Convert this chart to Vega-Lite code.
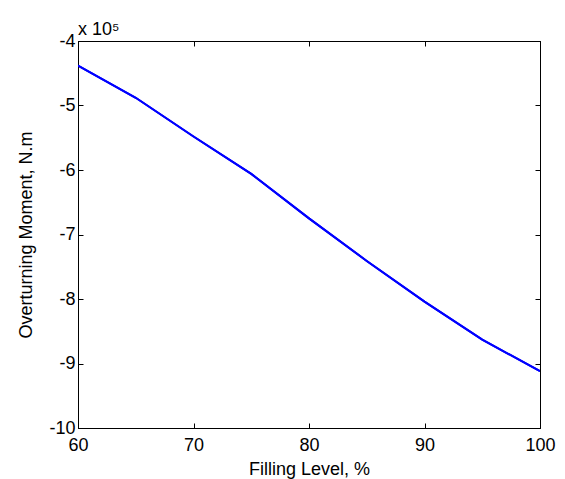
{
  "$schema": "https://vega.github.io/schema/vega-lite/v6.json",
  "width": 462,
  "height": 387,
  "autosize": {"type": "none"},
  "padding": {"left": 78, "top": 41, "right": 25, "bottom": 51},
  "background": "white",
  "config": {
    "view": {"stroke": "black", "strokeWidth": 1},
    "font": "Liberation Sans",
    "axis": {
      "labelFont": "Liberation Sans",
      "titleFont": "Liberation Sans",
      "labelFontSize": 18,
      "titleFontSize": 18,
      "titleFontWeight": "normal",
      "labelColor": "black",
      "titleColor": "black",
      "domainColor": "black",
      "tickColor": "black",
      "grid": false,
      "tickSize": -5,
      "labelFlush": false,
      "labelOverlap": false
    }
  },
  "title": {
    "text": "x 10⁵",
    "anchor": "start",
    "frame": "group",
    "orient": "top",
    "font": "Liberation Sans",
    "fontSize": 18,
    "fontWeight": "normal",
    "color": "black",
    "baseline": "alphabetic",
    "offset": -21
  },
  "data": {
    "values": [
      {"level": 60, "moment": -438000},
      {"level": 65, "moment": -488000},
      {"level": 70, "moment": -548000},
      {"level": 75, "moment": -606000},
      {"level": 80, "moment": -675000},
      {"level": 85, "moment": -741000},
      {"level": 90, "moment": -804000},
      {"level": 95, "moment": -863000},
      {"level": 100, "moment": -912000}
    ]
  },
  "layer": [
    {
      "mark": {"type": "line", "color": "#0000FF", "strokeWidth": 2, "clip": true},
      "encoding": {
        "x": {
          "field": "level", "type": "quantitative",
          "scale": {"domain": [60, 100], "nice": false, "zero": false},
          "axis": {"orient": "bottom", "values": [60, 70, 80, 90, 100], "title": "Filling Level, %", "labelPadding": 13, "titlePadding": 6}
        },
        "y": {
          "field": "moment", "type": "quantitative",
          "scale": {"domain": [-1000000, -400000], "nice": false, "zero": false},
          "axis": {"orient": "left", "values": [-1000000, -900000, -800000, -700000, -600000, -500000, -400000], "labelExpr": "'' + (datum.value / 100000)", "title": "Overturning Moment, N.m", "labelPadding": 8, "titlePadding": 13}
        }
      }
    },
    {
      "mark": {"type": "line", "color": "#0000FF", "strokeWidth": 2, "clip": true},
      "encoding": {
        "x": {
          "field": "level", "type": "quantitative",
          "scale": {"domain": [60, 100], "nice": false, "zero": false},
          "axis": {"orient": "top", "values": [60, 70, 80, 90, 100], "labels": false, "title": null}
        },
        "y": {
          "field": "moment", "type": "quantitative",
          "scale": {"domain": [-1000000, -400000], "nice": false, "zero": false},
          "axis": {"orient": "right", "values": [-1000000, -900000, -800000, -700000, -600000, -500000, -400000], "labels": false, "title": null}
        }
      }
    }
  ],
  "resolve": {"axis": {"x": "independent", "y": "independent"}}
}
